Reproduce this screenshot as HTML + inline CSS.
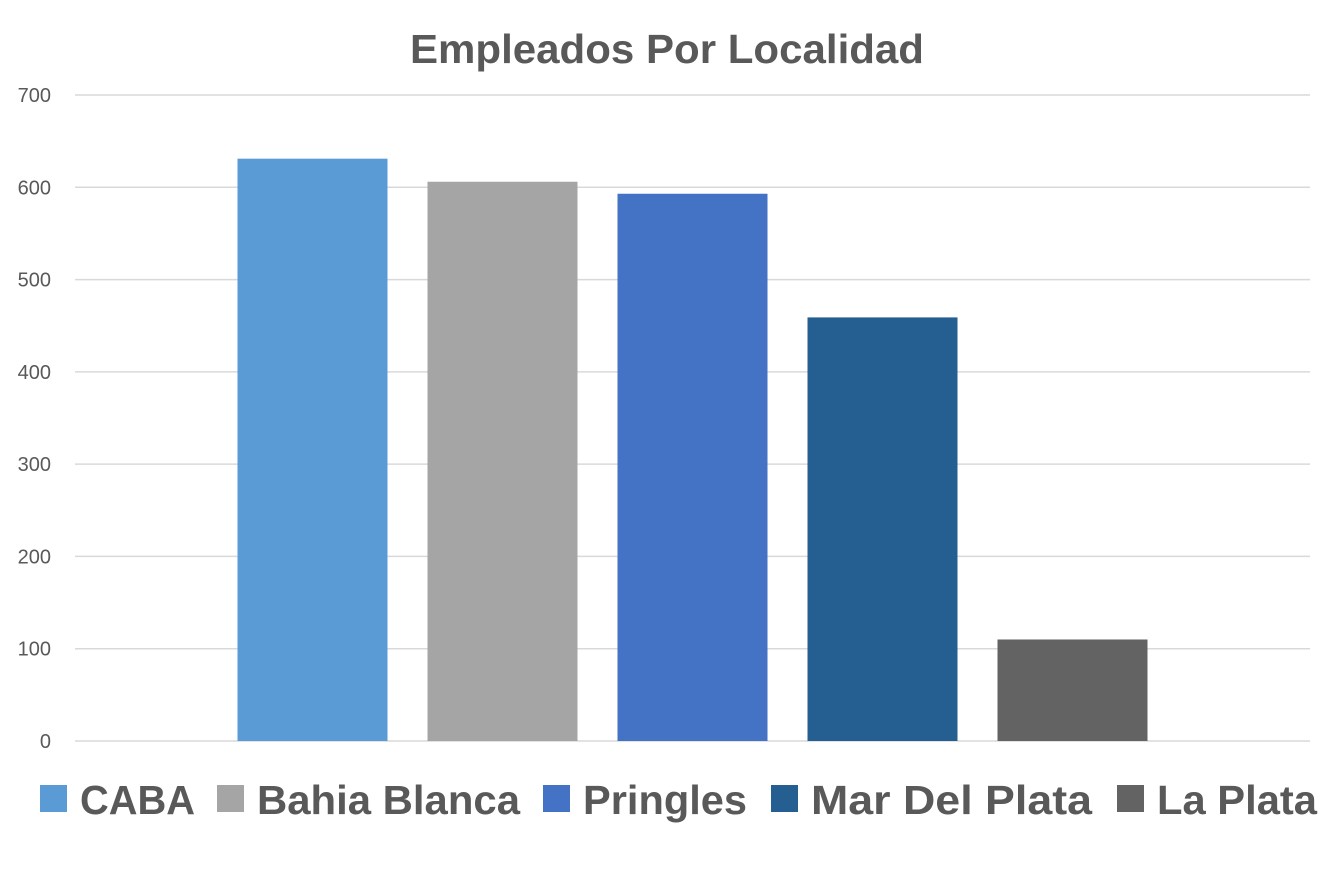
<!DOCTYPE html>
<html><head><meta charset="utf-8"><style>
html,body{margin:0;padding:0;background:#fff;}
svg{display:block;font-family:"Liberation Sans",Arial,sans-serif;}
</style></head><body>
<svg id="chart" width="1334" height="889">
<rect width="1334" height="889" fill="#fff"/>
<text x="410" y="63" textLength="514" lengthAdjust="spacingAndGlyphs" font-size="41" font-weight="bold" fill="#595959">Empleados Por Localidad</text>
<g id="grid"></g><g id="bars"></g><g id="legend"></g>
</svg>
<script>
const categories = ["CABA","Bahia Blanca","Pringles","Mar Del Plata","La Plata"];
const values = [631, 606, 593, 459, 110];
const colors = ["#5B9BD5","#A5A5A5","#4472C4","#255E91","#636363"];
const ticks = [0,100,200,300,400,500,600,700];
const legendX = [40,217,543,771,1117];
const legendW = [115,263,164,281,160];
const NS="http://www.w3.org/2000/svg";
const x0=75,x1=1310,yTop=95,yBot=741,yMax=700;
const y=v=>yBot-(v/yMax)*(yBot-yTop);
const pitch=190,barW=150,center=(x0+x1)/2;
const bx=i=>center+(i-(values.length-1)/2)*pitch-barW/2;
function mk(t,a,p){const e=document.createElementNS(NS,t);for(const k in a)e.setAttribute(k,a[k]);p.appendChild(e);return e;}
const grid=document.getElementById('grid');
ticks.forEach(t=>{
  const l=mk('line',{x1:x0,x2:x1,y1:y(t),y2:y(t),stroke:'#D9D9D9','stroke-width':1.5},grid);
  
  
  const tx=mk('text',{x:51,y:y(t)+7,'text-anchor':'end','font-size':20,fill:'#595959'},grid);
  tx.textContent=t;
  
  
});
const bars=document.getElementById('bars');
values.forEach((v,i)=>{
  const r=mk('rect',{x:bx(i),y:y(v),width:barW,height:yBot-y(v),fill:colors[i]},bars);
  
  
});
const lg=document.getElementById('legend');
categories.forEach((c,i)=>{
  const g=mk('g',{},lg);
  
  
  mk('rect',{x:legendX[i],y:785,width:27,height:27,fill:colors[i]},g);
  const t=mk('text',{x:legendX[i]+40,y:814,'font-size':41,'font-weight':'bold',fill:'#595959',textLength:legendW[i],lengthAdjust:'spacingAndGlyphs'},g);
  t.textContent=c;
});
</script>
</body></html>
